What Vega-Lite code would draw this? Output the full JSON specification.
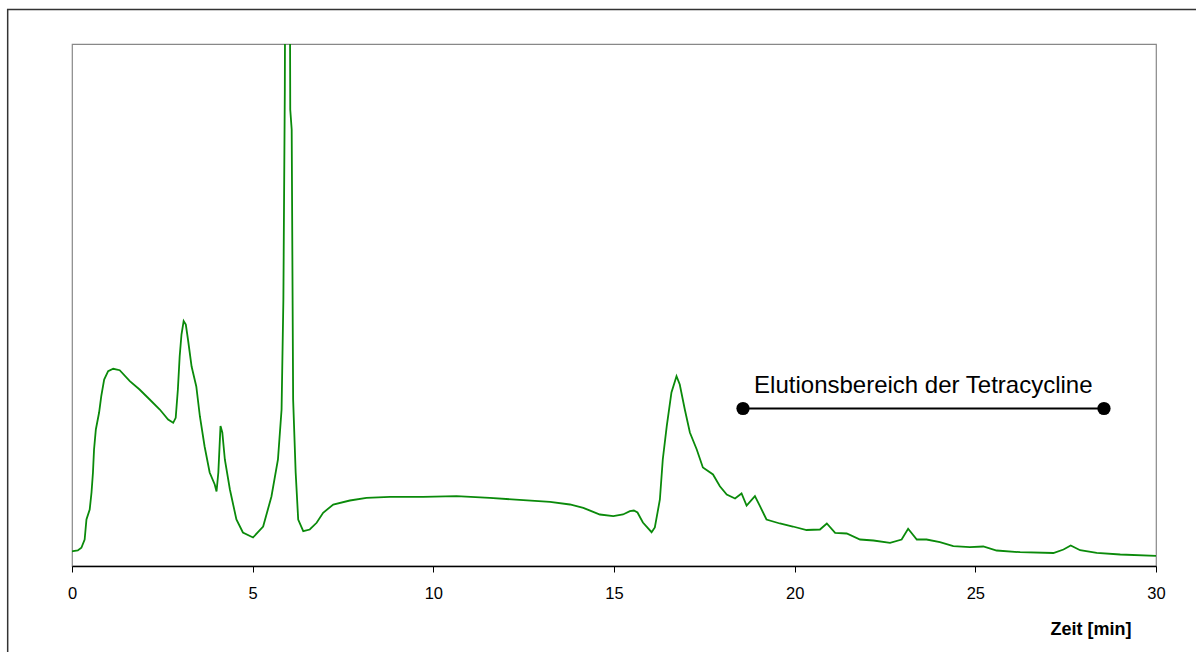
{
  "$schema": "https://vega.github.io/schema/vega-lite/v6.json",
  "width": 1084,
  "height": 522,
  "autosize": {"type": "none"},
  "padding": {"left": 72, "top": 44, "right": 40, "bottom": 86},
  "background": "white",
  "config": {
    "font": "Liberation Sans",
    "view": {"stroke": "#888888", "strokeWidth": 1.2},
    "axis": {"grid": false}
  },
  "datasets": {
    "trace": [
      {"t": 0.0, "v": 14.5}, {"t": 0.03, "v": 14.8}, {"t": 0.16, "v": 15.5}, {"t": 0.26, "v": 18.2},
      {"t": 0.35, "v": 26.5}, {"t": 0.40, "v": 46.5}, {"t": 0.49, "v": 56.5}, {"t": 0.54, "v": 73.5},
      {"t": 0.58, "v": 93.5}, {"t": 0.61, "v": 116.5}, {"t": 0.66, "v": 136.5}, {"t": 0.75, "v": 153.5},
      {"t": 0.81, "v": 169.8}, {"t": 0.89, "v": 186.5}, {"t": 1.00, "v": 194.8}, {"t": 1.14, "v": 197.2},
      {"t": 1.32, "v": 195.8}, {"t": 1.60, "v": 184.8}, {"t": 1.87, "v": 176.5}, {"t": 2.15, "v": 166.5},
      {"t": 2.43, "v": 156.5}, {"t": 2.66, "v": 146.5}, {"t": 2.80, "v": 143.2}, {"t": 2.87, "v": 148.2},
      {"t": 2.93, "v": 176.5}, {"t": 2.98, "v": 209.8}, {"t": 3.03, "v": 231.5}, {"t": 3.09, "v": 245},
      {"t": 3.15, "v": 241.5}, {"t": 3.21, "v": 226.5}, {"t": 3.31, "v": 199.5}, {"t": 3.44, "v": 179.5},
      {"t": 3.54, "v": 149.5}, {"t": 3.67, "v": 119.5}, {"t": 3.81, "v": 93.5}, {"t": 3.95, "v": 81.5},
      {"t": 4.00, "v": 74.5}, {"t": 4.05, "v": 93.5}, {"t": 4.11, "v": 140}, {"t": 4.16, "v": 133.5},
      {"t": 4.23, "v": 106.5}, {"t": 4.37, "v": 76.5}, {"t": 4.55, "v": 46.5}, {"t": 4.73, "v": 33.5},
      {"t": 5.01, "v": 28.5}, {"t": 5.29, "v": 39.5}, {"t": 5.52, "v": 69.5}, {"t": 5.70, "v": 106.5},
      {"t": 5.80, "v": 156.5}, {"t": 5.85, "v": 266.5}, {"t": 5.89, "v": 476.5}, {"t": 5.92, "v": 866},
      {"t": 6.01, "v": 866}, {"t": 6.04, "v": 456.5}, {"t": 6.08, "v": 436.5}, {"t": 6.12, "v": 166.5},
      {"t": 6.19, "v": 93.5}, {"t": 6.26, "v": 46.5}, {"t": 6.40, "v": 34.8}, {"t": 6.58, "v": 36.5},
      {"t": 6.77, "v": 43.2}, {"t": 6.95, "v": 53.2}, {"t": 7.23, "v": 61.5}, {"t": 7.69, "v": 65.5},
      {"t": 8.15, "v": 68.2}, {"t": 8.80, "v": 69.2}, {"t": 9.72, "v": 69.2}, {"t": 10.64, "v": 69.8},
      {"t": 11.56, "v": 68.2}, {"t": 12.49, "v": 65.8}, {"t": 13.23, "v": 64.2}, {"t": 13.78, "v": 61.5},
      {"t": 14.15, "v": 58.2}, {"t": 14.61, "v": 51.5}, {"t": 14.98, "v": 49.8}, {"t": 15.25, "v": 51.5},
      {"t": 15.44, "v": 54.8}, {"t": 15.55, "v": 55.5}, {"t": 15.65, "v": 53.5}, {"t": 15.80, "v": 43.5},
      {"t": 16.04, "v": 33.8}, {"t": 16.13, "v": 38.5}, {"t": 16.27, "v": 66.5}, {"t": 16.35, "v": 106.5},
      {"t": 16.46, "v": 139.8}, {"t": 16.59, "v": 173.5}, {"t": 16.73, "v": 189.8}, {"t": 16.82, "v": 181.5},
      {"t": 16.96, "v": 156.5}, {"t": 17.10, "v": 133.5}, {"t": 17.29, "v": 116.5}, {"t": 17.46, "v": 98.5},
      {"t": 17.74, "v": 91.5}, {"t": 17.93, "v": 79.8}, {"t": 18.12, "v": 71.5}, {"t": 18.35, "v": 67.5},
      {"t": 18.53, "v": 72.5}, {"t": 18.67, "v": 60.5}, {"t": 18.90, "v": 69.8}, {"t": 19.04, "v": 59.8},
      {"t": 19.22, "v": 46.5}, {"t": 19.59, "v": 42.5}, {"t": 19.95, "v": 39.5}, {"t": 20.33, "v": 36},
      {"t": 20.70, "v": 36.5}, {"t": 20.89, "v": 42.5}, {"t": 21.12, "v": 33.2}, {"t": 21.44, "v": 32.5},
      {"t": 21.81, "v": 26.5}, {"t": 22.18, "v": 25.5}, {"t": 22.64, "v": 23.2}, {"t": 22.96, "v": 26.5},
      {"t": 23.14, "v": 37.2}, {"t": 23.38, "v": 26.5}, {"t": 23.65, "v": 26.5}, {"t": 24.02, "v": 23.8},
      {"t": 24.39, "v": 19.8}, {"t": 24.85, "v": 18.8}, {"t": 25.22, "v": 19.5}, {"t": 25.59, "v": 15.5},
      {"t": 26.24, "v": 13.8}, {"t": 27.16, "v": 13}, {"t": 27.44, "v": 16.5}, {"t": 27.64, "v": 20.5},
      {"t": 27.90, "v": 15.8}, {"t": 28.36, "v": 13.2}, {"t": 29.01, "v": 11.5}, {"t": 30.0, "v": 10.2}
    ],
    "range": [
      {"t": 18.57, "v": 157.5},
      {"t": 28.56, "v": 157.5}
    ],
    "label": [
      {"t": 23.56, "v": 173.2, "text": "Elutionsbereich der Tetracycline"}
    ]
  },
  "layer": [
    {
      "data": {"name": "trace"},
      "mark": {"type": "line", "color": "#0a8a0a", "strokeWidth": 1.8, "clip": true},
      "encoding": {
        "x": {
          "field": "t", "type": "quantitative",
          "scale": {"domain": [0, 30], "nice": false},
          "axis": {
            "values": [0, 5, 10, 15, 20, 25, 30],
            "title": "Zeit [min]",
            "titleFontWeight": "bold",
            "titleFontSize": 18,
            "titleColor": "black",
            "titleAlign": "right",
            "titleBaseline": "alphabetic",
            "titleAnchor": null,
            "titleX": 1059,
            "titleY": 68.5,
            "domainColor": "black",
            "domainWidth": 1.5,
            "tickColor": "black",
            "tickWidth": 1,
            "tickSize": 6,
            "labelFontSize": 16.5,
            "labelColor": "black",
            "labelPadding": 13,
            "labelFlush": false
          }
        },
        "y": {
          "field": "v", "type": "quantitative",
          "scale": {"domain": [0, 522], "nice": false, "zero": false},
          "axis": null
        }
      }
    },
    {
      "data": {"values": [{}]},
      "mark": {"type": "rect", "fillOpacity": 0, "stroke": "#333333", "strokeWidth": 1.5, "clip": false},
      "encoding": {
        "x": {"datum": -1.78, "type": "quantitative"},
        "x2": {"datum": 31.3},
        "y": {"datum": 556.5, "type": "quantitative"},
        "y2": {"datum": -95}
      }
    },
    {
      "data": {"name": "range"},
      "mark": {"type": "line", "color": "black", "strokeWidth": 2},
      "encoding": {
        "x": {"field": "t", "type": "quantitative"},
        "y": {"field": "v", "type": "quantitative"}
      }
    },
    {
      "data": {"name": "range"},
      "mark": {"type": "point", "filled": true, "shape": "circle", "size": 175, "color": "black", "opacity": 1},
      "encoding": {
        "x": {"field": "t", "type": "quantitative"},
        "y": {"field": "v", "type": "quantitative"}
      }
    },
    {
      "data": {"name": "label"},
      "mark": {"type": "text", "fontSize": 24, "color": "black", "align": "center", "baseline": "alphabetic"},
      "encoding": {
        "x": {"field": "t", "type": "quantitative"},
        "y": {"field": "v", "type": "quantitative"},
        "text": {"field": "text"}
      }
    }
  ]
}
